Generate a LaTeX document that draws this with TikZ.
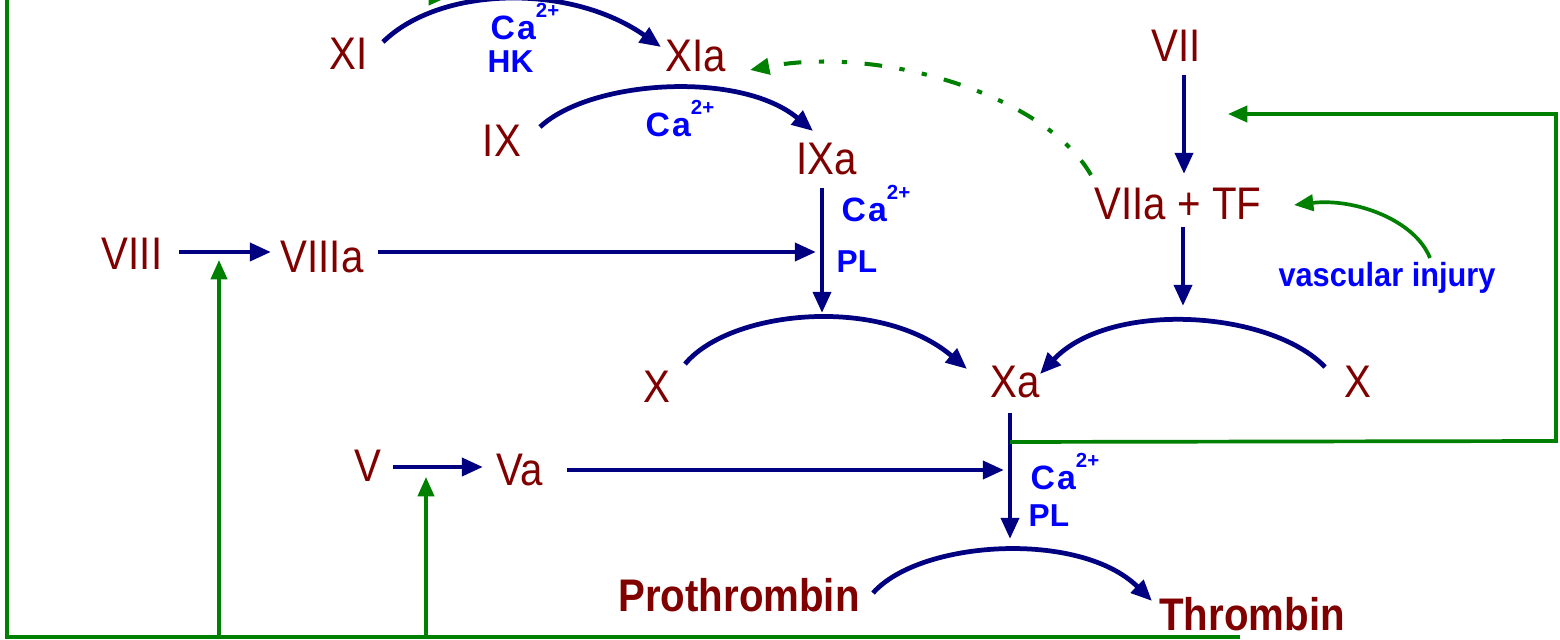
\documentclass[tikz,border=0pt]{standalone}
\usepackage{fontspec}
\setmainfont{Liberation Sans}[FakeStretch=0.88]
\newfontfamily\labfont{Liberation Sans}
\newfontfamily\vfont{Liberation Sans}[FakeStretch=0.92]
\usetikzlibrary{arrows.meta}
\definecolor{mr}{RGB}{128,0,0}
\definecolor{nv}{RGB}{0,0,128}
\definecolor{bl}{RGB}{0,0,255}
\definecolor{gr}{RGB}{0,128,0}
\newcommand\caion{C\kern0.6pt a\raisebox{6.3pt}{\fontsize{5.8}{6}\selectfont 2+}}
\tikzset{
  fac/.style={text=mr, font=\fontsize{13}{15}\selectfont, anchor=base, inner sep=0pt},
  bfac/.style={fac, font=\fontsize{13}{15}\selectfont\bfseries},
  lab/.style={text=bl, font=\labfont\fontsize{9}{10}\selectfont\bfseries, anchor=base west, inner sep=0pt},
  calab/.style={lab, font=\labfont\fontsize{9.6}{10}\selectfont\bfseries},
  barr/.style={draw=nv, line width=1.35pt, -{Triangle[length=6pt,width=5pt]}},
  gline/.style={draw=gr, line width=1.05pt},
  garr/.style={gline, -{Triangle[length=5.5pt,width=4.6pt]}},
}
\begin{document}
\begin{tikzpicture}[x=0.01cm,y=-0.01cm]
\useasboundingbox (0,0) rectangle (1560,640);
\clip (0,0) rectangle (1560,640);

% factor nodes
\node[fac] (XI) at (349,70) {XI};
\node[fac] (XIa) at (696,72) {XIa};
\node[fac] (VII) at (1176,62) {VII};
\node[fac] (IX) at (502,157) {IX};
\node[fac] (IXa) at (827,175) {IXa};
\node[fac] (VIIaTF) at (1178,220) {VIIa + TF};
\node[fac] (VIII) at (132,270) {VIII};
\node[fac] (VIIIa) at (322,273) {VIIIa};
\node[fac] (XL) at (657,403) {X};
\node[fac] (Xa) at (1015,398) {Xa};
\node[fac] (XR) at (1358,398) {X};
\node[fac] (V) at (368,482) {V};
\node[fac] (Va) at (520,486) {Va};
\node[bfac] (PT) at (739,612) {Prothrombin};
\node[bfac] (TH) at (1252,630) {Thrombin};
\node[text=bl, font=\vfont\fontsize{9.5}{11}\selectfont\bfseries, anchor=base, inner sep=0pt] (VI) at (1387,287) {vascular injury};

% cofactor labels
\node[calab] (ca1) at (490,40) {\caion};
\node[lab] (hk) at (487,73) {HK};
\node[calab] (ca2) at (645,137) {\caion};
\node[calab] (ca3) at (841,222) {\caion};
\node[lab] (pl1) at (836,273) {PL};
\node[calab] (ca4) at (1030,490) {\caion};
\node[lab] (pl2) at (1028,527) {PL};

% coordinates for connector ends
\coordinate (a1s) at (383,42);  \coordinate (a1e) at (661,47);
\coordinate (a2s) at (540,127); \coordinate (a2e) at (813,131);
\coordinate (v1s) at (822,188); \coordinate (v1e) at (822,313);
\coordinate (h1s) at (179,252); \coordinate (h1e) at (271,252);
\coordinate (h2s) at (378,252); \coordinate (h2e) at (816,252);
\coordinate (v2s) at (1184,75); \coordinate (v2e) at (1184,174);
\coordinate (v3s) at (1183,227);\coordinate (v3e) at (1183,306);
\coordinate (a3s) at (685,364); \coordinate (a3e) at (967,369);
\coordinate (a4s) at (1325,367);\coordinate (a4e) at (1040,374);
\coordinate (v4s) at (1010,413);\coordinate (v4e) at (1010,539);
\coordinate (h3s) at (393,467); \coordinate (h3e) at (483,467);
\coordinate (h4s) at (567,470); \coordinate (h4e) at (1004,470);
\coordinate (a5s) at (873,593); \coordinate (a5e) at (1152,601);
\coordinate (xav) at (1010,442);

% blue reactions
\draw[barr] (a1s) .. controls (440,-14) and (570,-17) .. (a1e);
\draw[barr] (a2s) .. controls (590,80) and (740,70) .. (a2e);
\draw[barr] (v1s) -- (v1e);
\draw[barr] (h1s) -- (h1e);
\draw[barr] (h2s) -- (h2e);
\draw[barr] (v2s) -- (v2e);
\draw[barr] (v3s) -- (v3e);
\draw[barr] (a3s) .. controls (730,310) and (880,295) .. (a3e);
\draw[barr] (a4s) .. controls (1270,310) and (1110,300) .. (a4e);
\draw[barr] (v4s) -- (v4e);
\draw[barr] (h3s) -- (h3e);
\draw[barr] (h4s) -- (h4e);
\draw[barr] (a5s) .. controls (920,540) and (1080,530) .. (a5e);

% green feedback
\coordinate (gb) at (1240,637);
\coordinate (gl) at (7,637);
\coordinate (gt) at (7,-3);
\coordinate (gtip) at (448,-3);
\draw[garr] (gb) -- (gl) -- (gt) -- (gtip);
\coordinate (g8s) at (219,637); \coordinate (g8e) at (219,260);
\coordinate (g5s) at (426,637); \coordinate (g5e) at (426,477);
\draw[garr] (g8s) -- (g8e);
\draw[garr] (g5s) -- (g5e);
\coordinate (gr1) at (1556,441);
\coordinate (gr2) at (1556,114);
\coordinate (g7e) at (1228,114);
\draw[garr] (xav) -- (gr1) -- (gr2) -- (g7e);
\coordinate (gvs) at (1430,258); \coordinate (gve) at (1294,205);
\draw[garr] (gvs) .. controls (1415,220) and (1355,198) .. (gve);
\coordinate (gds) at (1091,175); \coordinate (gde) at (750,70);
\draw[garr, line width=1.15pt, dash pattern=on 5pt off 5pt on 1.5pt off 5pt on 1.5pt off 5pt] (gds) .. controls (1045,95) and (880,45) .. (gde);
\end{tikzpicture}
\end{document}
